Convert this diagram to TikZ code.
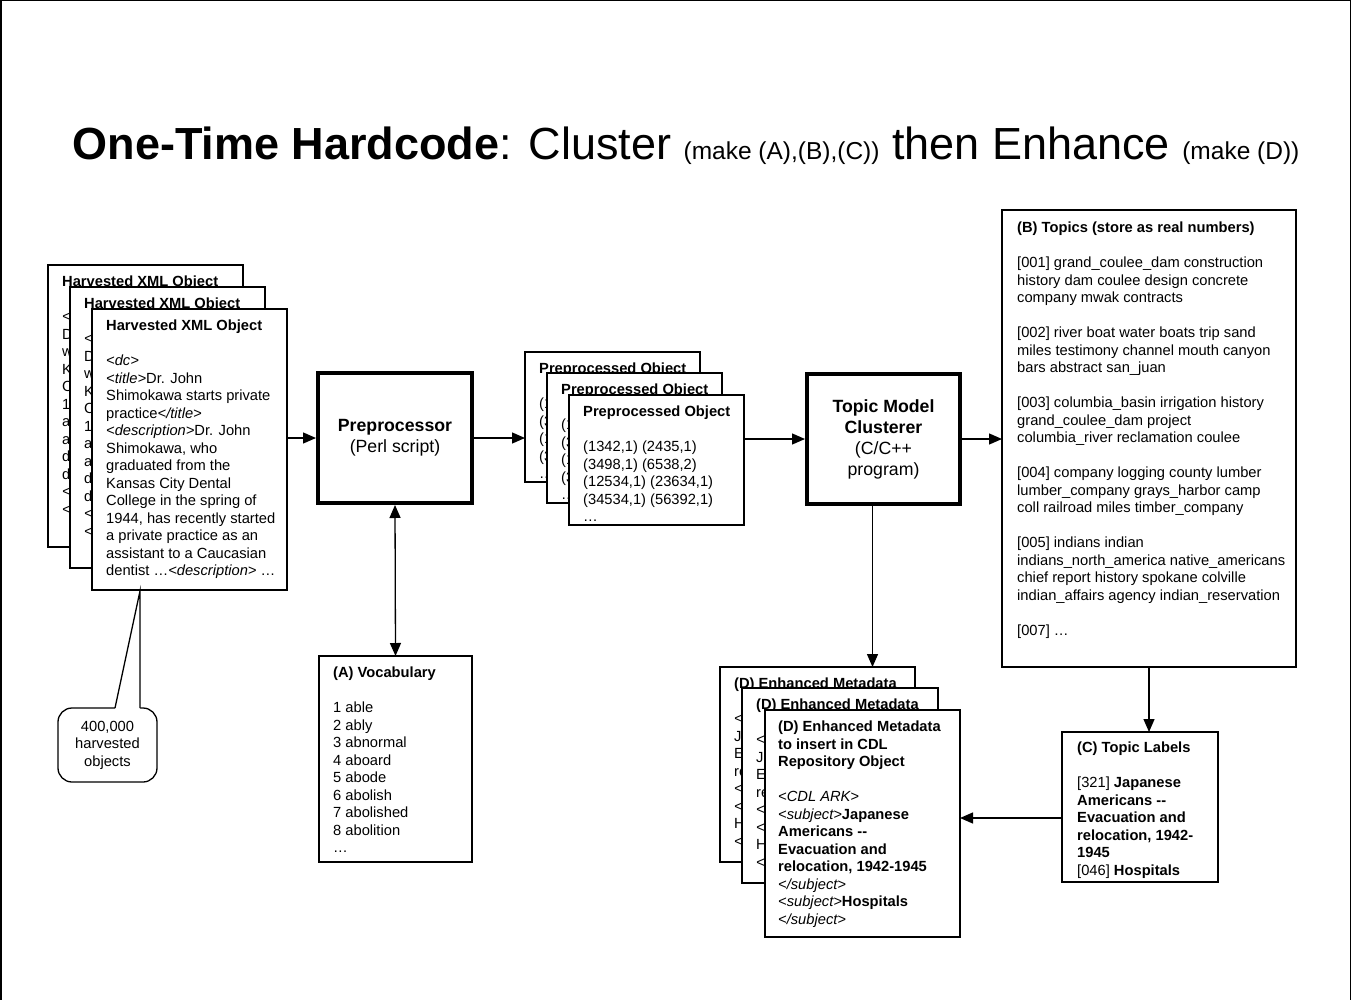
\documentclass[tikz,border=0pt]{standalone}
\usepackage{fontspec}
\setmainfont{Liberation Sans}
\usetikzlibrary{arrows.meta}
\newcommand\bodyfont{\fontsize{14.7}{17.5}\selectfont}
\newcommand\procfont{\fontsize{17.7}{21}\selectfont}
\newcommand\bigtitle{\fontsize{45}{50}\selectfont}
\newcommand\smalltitle{\fontsize{24.5}{28}\selectfont}

\begin{document}
\begin{tikzpicture}[x=1pt, y=-1pt,
doc/.style={draw, line width=1.3pt, fill=white, anchor=north west, inner sep=0pt, outer sep=0pt},
txt/.style={anchor=north west, inner sep=0pt, align=left, font=\bodyfont},
proc/.style={draw, line width=4pt, fill=white, minimum width=154, minimum height=130, inner sep=0pt, align=center, font=\procfont},
arr/.style={line width=1.3pt, -{Triangle[length=13pt,width=11pt]}},
dbl/.style={line width=1.3pt, {Triangle[length=13pt,width=11pt]}-{Triangle[length=13pt,width=11pt]}}]
\useasboundingbox (0,0) rectangle (1351,1000);
\draw[line width=1.5pt] (0.75,1000) -- (0.75,0.75) -- (1350.25,0.75) -- (1350.25,1000);

% title
\node[anchor=base] (title) at (686,160) {\bigtitle\textbf{One-Time Hardcode}: Cluster {\smalltitle(make (A),(B),(C))} then Enhance {\smalltitle(make (D))}};

% harvested objects
\node[doc, minimum width=195, minimum height=282] (harv1) at (48,265) {};
\node[txt] (harv1txt) at ([xshift=14pt,yshift=-11pt]harv1.north west) {\textbf{Harvested XML Object}\\[17.5pt]\textit{<}\\D\\w\\K\\C\\1\\a\\a\\d\\d\\\textit{<}\\\textit{<}};
\node[doc, minimum width=195, minimum height=281] (harv2) at (70,287) {};
\node[txt] (harv2txt) at ([xshift=14pt,yshift=-11pt]harv2.north west) {\textbf{Harvested XML Object}\\[17.5pt]\textit{<}\\D\\w\\K\\C\\1\\a\\a\\d\\d\\\textit{<}\\\textit{<}};
\node[doc, minimum width=195, minimum height=281] (harv3) at (92,309) {};
\node[txt] (harv3txt) at ([xshift=14pt,yshift=-11pt]harv3.north west) {\textbf{Harvested XML Object}\\[17.5pt]
\textit{<dc>}\\
\textit{<title>}Dr. John\\
Shimokawa starts private\\
practice\textit{</title>}\\
\textit{<description>}Dr. John\\
Shimokawa, who\\
graduated from the\\
Kansas City Dental\\
College in the spring of\\
1944, has recently started\\
a private practice as an\\
assistant to a Caucasian\\
dentist …\textit{<description>} …};

% callout
\node[draw, line width=1.3pt, rounded corners=14pt, minimum width=99, minimum height=74, inner sep=0pt, font=\bodyfont, align=center] (call) at (107.5,745) {400,000\\harvested\\objects};
\coordinate (tip) at (140,591);
\fill[white] (115,709.6) -- (tip) -- (140,709.6) -- cycle;
\draw[line width=1.3pt] (115,708) -- (tip) -- (140,708);

% preprocessor and vocabulary
\node[proc] (pre) at (395,438) {\textbf{Preprocessor}\\(Perl script)};
\node[doc, minimum width=153, minimum height=206] (voc) at (319,656) {};
\node[txt] (voctxt) at ([xshift=14pt,yshift=-11pt]voc.north west) {\textbf{(A) Vocabulary}\\[17.5pt]
1 able\\2 ably\\3 abnormal\\4 aboard\\5 abode\\6 abolish\\7 abolished\\8 abolition\\…};

% preprocessed objects
\foreach \i/\x/\y in {1/525/352, 2/547/373}{
  \node[doc, minimum width=175, minimum height=130] (pp\i) at (\x,\y) {};
  \node[txt] (pp\i txt) at ([xshift=14pt,yshift=-11pt]pp\i.north west) {\textbf{Preprocessed Object}\\[17.5pt]
  (1\\(3\\(1\\(3\\…};
}
\node[doc, minimum width=175, minimum height=130] (pp3) at (569,395) {};
\node[txt] (pp3txt) at ([xshift=14pt,yshift=-11pt]pp3.north west) {\textbf{Preprocessed Object}\\[17.5pt]
(1342,1) (2435,1)\\(3498,1) (6538,2)\\(12534,1) (23634,1)\\(34534,1) (56392,1)\\…};

% clusterer
\node[proc, minimum width=153] (clu) at (883.5,439) {\textbf{Topic Model}\\\textbf{Clusterer}\\(C/C++\\program)};

% topics
\node[doc, minimum width=294, minimum height=457] (top) at (1002,210) {};
\node[txt] (toptxt) at ([xshift=15pt,yshift=-12pt]top.north west) {\textbf{(B) Topics (store as real numbers)}\\[17.5pt]
{[001]} grand\_coulee\_dam construction\\
history dam coulee design concrete\\
company mwak contracts\\[17.5pt]
{[002]} river boat water boats trip sand\\
miles testimony channel mouth canyon\\
bars abstract san\_juan\\[17.5pt]
{[003]} columbia\_basin irrigation history\\
grand\_coulee\_dam project\\
columbia\_river reclamation coulee\\[17.5pt]
{[004]} company logging county lumber\\
lumber\_company grays\_harbor camp\\
coll railroad miles timber\_company\\[17.5pt]
{[005]} indians indian\\
indians\_north\_america native\_americans\\
chief report history spokane colville\\
indian\_affairs agency indian\_reservation\\[17.5pt]
{[007]} …};

% topic labels
\node[doc, minimum width=156, minimum height=150] (lab) at (1062,732) {};
\node[txt] (labtxt) at ([xshift=15pt,yshift=-10pt]lab.north west) {\textbf{(C) Topic Labels}\\[17.5pt]
{[321]} \textbf{Japanese}\\
\textbf{Americans -{}-}\\
\textbf{Evacuation and}\\
\textbf{relocation, 1942-}\\
\textbf{1945}\\
{[046]} \textbf{Hospitals}};

% enhanced metadata
\node[doc, minimum width=195, minimum height=195] (D1) at (720,667) {};
\node[txt] (D1txt) at ([xshift=14pt,yshift=-11pt]D1.north west) {\textbf{(D) Enhanced Metadata}\\[17.5pt]\textit{<}\\J\\E\\re\\\textit{<}\\\textit{<}\\H\\\textit{<}};
\node[doc, minimum width=196, minimum height=195] (D2) at (742,688) {};
\node[txt] (D2txt) at ([xshift=14pt,yshift=-11pt]D2.north west) {\textbf{(D) Enhanced Metadata}\\[17.5pt]\textit{<}\\J\\E\\re\\\textit{<}\\\textit{<}\\H\\\textit{<}};
\node[doc, minimum width=195, minimum height=227] (D3) at (765,710) {};
\node[txt] (D3txt) at ([xshift=13pt,yshift=-11pt]D3.north west) {\textbf{(D) Enhanced Metadata}\\
\textbf{to insert in CDL}\\
\textbf{Repository Object}\\[17.5pt]
\textit{<CDL ARK>}\\
\textit{<subject>}\textbf{Japanese}\\
\textbf{Americans -{}-}\\
\textbf{Evacuation and}\\
\textbf{relocation, 1942-1945}\\
\textit{</subject>}\\
\textit{<subject>}\textbf{Hospitals}\\
\textit{</subject>}};

% connectors
\draw[arr] (pre.west -| harv3.east) -- (pre.west);
\draw[arr] (pre.east) -- (pre.east -| pp1.west);
\draw[dbl] (pre.south) -- (voc.north);
\draw[arr] (clu.west -| pp3.east) -- (clu.west);
\draw[arr] (clu.east) -- (clu.east -| top.west);
\draw[arr] ([xshift=-11pt]clu.south) -- ([xshift=-11pt]clu.south |- D1.north);
\draw[arr] (top.south -| lab.north) ++(9pt,0) coordinate (labin) -- (labin |- lab.north);
\draw[arr] ([yshift=-11pt]lab.west) -- ([yshift=-11pt]lab.west -| D3.east);
\end{tikzpicture}
\end{document}
